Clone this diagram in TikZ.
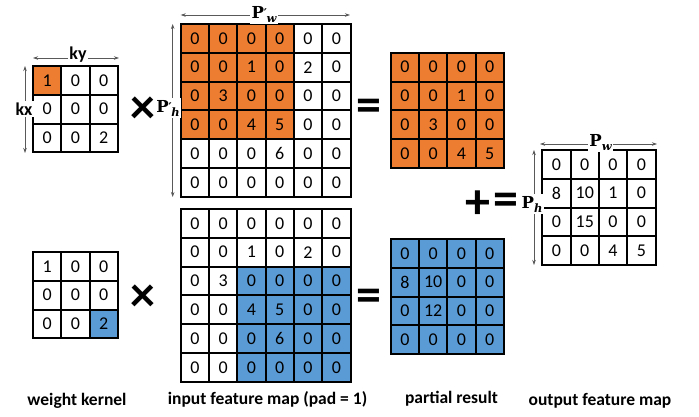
\documentclass[tikz,border=0pt]{standalone}
\usepackage[no-math]{fontspec}
\setmainfont{Carlito}
\newfontfamily\pfont{DejaVu Serif}
\usetikzlibrary{arrows.meta}
\definecolor{cO}{HTML}{ED7D31}
\definecolor{cB}{HTML}{5B9BD5}
\definecolor{cW}{HTML}{FFFFFF}
\definecolor{dimgray}{HTML}{595959}
\def\cw{28.3}
\def\ch{28.8}
\newcommand\mygrid[4]{%
  \foreach \rowdata [count=\r] in {#4} {
    \foreach \v/\f [count=\c] in \rowdata {
      \node[cell, fill=\f] (#1-\r-\c) at ({#2+(\c-0.5)*\cw},{#3+(\r-0.5)*\ch}) {\v};
    }
  }%
}
% dimension labels: P with italic subscript, with or without a prime
\newcommand\psub[1]{\raisebox{-4pt}{\pfont\bfseries\itshape\fontsize{11.5}{11.5}\selectfont #1}}
\newcommand\plabel[1]{%
  {\pfont\bfseries\fontsize{16.5}{16.5}\selectfont P}\psub{#1}}
\newcommand\pplabel[1]{%
  {\pfont\bfseries\fontsize{16.5}{16.5}\selectfont P}%
  \raisebox{1pt}{\pfont\bfseries\fontsize{12}{12}\selectfont ′}\kern-0.5pt\psub{#1}}
\tikzset{
  cell/.style={draw=black, line width=2pt, minimum width=\cw pt, minimum height=\ch pt,
    inner sep=0pt, outer sep=0pt, font=\fontsize{18}{18}\selectfont},
  dimarr/.style={draw=dimgray, line width=0.7pt, {Stealth[length=5pt,width=3.5pt]}-{Stealth[length=5pt,width=3.5pt]}},
  dimlab/.style={fill=white, inner sep=1.5pt, font=\fontsize{18}{18}\selectfont\bfseries},
  plab/.style={fill=white, inner sep=1.5pt},
  oplab/.style={inner sep=0pt, font=\fontsize{50}{50}\selectfont\bfseries},
  caption/.style={inner sep=0pt, font=\fontsize{17.5}{17.5}\selectfont\bfseries}
}
\begin{document}
\begin{tikzpicture}[x=1pt,y=-1pt]
\useasboundingbox[fill=white] (0,0) rectangle (699,416);
% ---------- top row ----------
\mygrid{ka}{33}{66}{{1/cO,0/cW,0/cW},{0/cW,0/cW,0/cW},{0/cW,0/cW,2/cW}}
\mygrid{ia}{180.7}{24}{
 {0/cO,0/cO,0/cO,0/cO,0/cW,0/cW},
 {0/cO,0/cO,1/cO,0/cO,2/cW,0/cW},
 {0/cO,3/cO,0/cO,0/cO,0/cW,0/cW},
 {0/cO,0/cO,4/cO,5/cO,0/cW,0/cW},
 {0/cW,0/cW,0/cW,6/cW,0/cW,0/cW},
 {0/cW,0/cW,0/cW,0/cW,0/cW,0/cW}}
\mygrid{ra}{390.7}{52.7}{
 {0/cO,0/cO,0/cO,0/cO},
 {0/cO,0/cO,1/cO,0/cO},
 {0/cO,3/cO,0/cO,0/cO},
 {0/cO,0/cO,4/cO,5/cO}}
% ---------- bottom row ----------
\mygrid{kb}{33}{252}{{1/cW,0/cW,0/cW},{0/cW,0/cW,0/cW},{0/cW,0/cW,2/cB}}
\mygrid{ib}{180.7}{209}{
 {0/cW,0/cW,0/cW,0/cW,0/cW,0/cW},
 {0/cW,0/cW,1/cW,0/cW,2/cW,0/cW},
 {0/cW,3/cW,0/cB,0/cB,0/cB,0/cB},
 {0/cW,0/cW,4/cB,5/cB,0/cB,0/cB},
 {0/cW,0/cW,0/cB,6/cB,0/cB,0/cB},
 {0/cW,0/cW,0/cB,0/cB,0/cB,0/cB}}
\mygrid{rb}{390.7}{239}{
 {0/cB,0/cB,0/cB,0/cB},
 {8/cB,10/cB,0/cB,0/cB},
 {0/cB,12/cB,0/cB,0/cB},
 {0/cB,0/cB,0/cB,0/cB}}
% ---------- output ----------
\mygrid{out}{542.3}{150}{
 {0/cW,0/cW,0/cW,0/cW},
 {8/cW,10/cW,1/cW,0/cW},
 {0/cW,15/cW,0/cW,0/cW},
 {0/cW,0/cW,4/cW,5/cW}}
% ---------- dimension arrows ----------
\coordinate (kyL) at (33,58);   \coordinate (kyR) at (119,58);
\coordinate (kxT) at (25,66);   \coordinate (kxB) at (25,153);
\coordinate (pwL) at (180.7,15); \coordinate (pwR) at (350,15);
\coordinate (phT) at (172.7,24); \coordinate (phB) at (172.7,197);
\coordinate (qwL) at (540,144); \coordinate (qwR) at (657,144);
\coordinate (qhT) at (534,150); \coordinate (qhB) at (534,265);
\draw[dimarr] (kyL) -- (kyR);
\draw[dimarr] (kxT) -- (kxB);
\draw[dimarr] (pwL) -- (pwR);
\draw[dimarr] (phT) -- (phB);
\draw[dimarr] (qwL) -- (qwR);
\draw[dimarr] (qhT) -- (qhB);
\node[dimlab] (ky) at (78,55) {ky};
\node[dimlab] (kx) at (24,109) {kx};
\node[plab] (pw) at (264,14) {\pplabel{w}};
\node[plab] (ph) at (168,108) {\pplabel{h}};
\node[plab] (qw) at (600.5,142) {\plabel{w}};
\node[plab] (qh) at (532,204) {\plabel{h}};
% ---------- operators ----------
\node[oplab] (times1) at (143,110.5) {×};
\node[oplab] (eq1) at (368.5,110.5) {=};
\node[oplab] (times2) at (143,298.5) {×};
\node[oplab] (eq2) at (368.5,300) {=};
\node[oplab] (plus) at (477.5,205) {+};
\node[oplab] (eq3) at (506,204.5) {=};
% ---------- captions ----------
\node[caption] (c1) at (77,401) {weight kernel};
\node[caption] (c2) at (267.5,399) {input feature map (pad = 1)};
\node[caption] (c3) at (451.5,399) {partial result};
\node[caption] (c4) at (600,401) {output feature map};
\end{tikzpicture}
\end{document}
